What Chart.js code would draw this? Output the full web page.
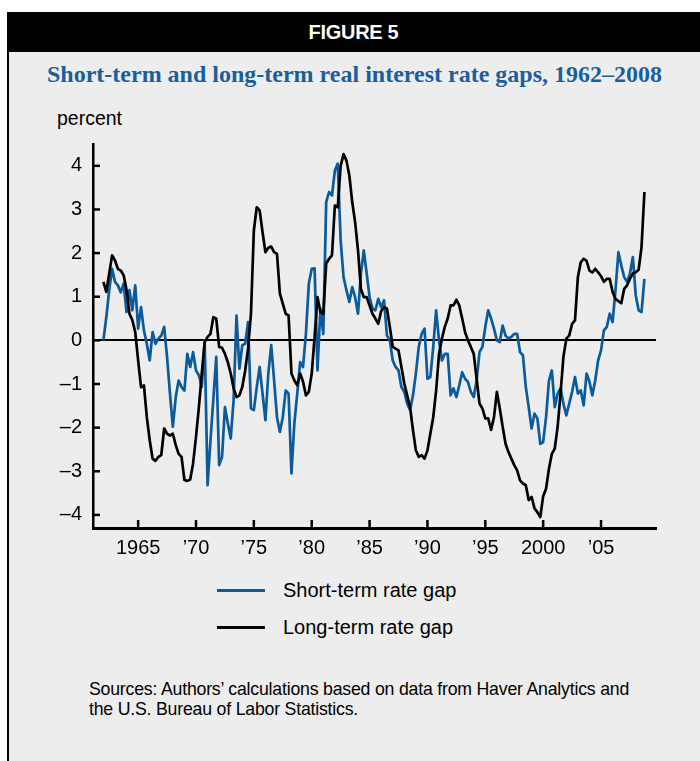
<!DOCTYPE html>
<html>
<head>
<meta charset="utf-8">
<script src="https://cdn.jsdelivr.net/npm/chart.js@4.4.1/dist/chart.umd.min.js"></script>
<style>
  html, body { margin: 0; padding: 0; background: #fff; }
  #page { position: relative; width: 700px; height: 761px; overflow: hidden; background: #fff; font-family: "Liberation Sans", Arial, sans-serif; }
  #panel { position: absolute; left: 7px; top: 12px; right: 0; bottom: 0; background: #ededed; border-left: 2.5px solid #000; }
  #header { position: absolute; left: 7px; top: 12px; right: 0; height: 40px; background: #000; color: #fff; text-align: center; line-height: 40px; font-weight: bold; font-size: 20px; letter-spacing: -0.3px; }
  #title { position: absolute; left: 9px; right: 0; top: 59px; text-align: center; font-family: "Liberation Serif", "Times New Roman", serif; font-weight: bold; font-size: 24px; color: #1b5e9c; line-height: 30px; }
  #unit { position: absolute; left: 57px; top: 106px; font-size: 19.5px; line-height: 24px; color: #000; }
  #wrap { position: absolute; left: 0; top: 130px; width: 700px; height: 440px; }
  .leg { position: absolute; left: 217px; height: 24px; line-height: 24px; font-size: 20px; color: #000; }
  .leg i { position: absolute; left: 0; top: 10.5px; width: 48px; height: 3px; }
  .leg span { position: absolute; left: 66px; white-space: nowrap; }
  #sources { position: absolute; left: 89px; top: 679px; font-size: 17.7px; line-height: 20px; color: #000; letter-spacing: -0.2px; }
</style>
</head>
<body>
<div id="page">
  <div id="panel"></div>
  <div id="header">FIGURE 5</div>
  <div id="title">Short-term and long-term real interest rate gaps, 1962–2008</div>
  <div id="unit">percent</div>
  <div id="wrap"><canvas id="chart_gaps"></canvas></div>
  <div class="leg" style="top:578px"><i style="background:#0a5a9c"></i><span>Short-term rate gap</span></div>
  <div class="leg" style="top:615px"><i style="background:#000"></i><span>Long-term rate gap</span></div>
  <div id="sources">Sources: Authors’ calculations based on data from Haver Analytics and<br>the U.S. Bureau of Labor Statistics.</div>
</div>
<script>
// quarterly data, 1962:Q1 to 2008:Q4
var startYear = 1962;

var shortGap = [
  0.0, 0.53, 1.15, 1.64, 1.34, 1.26, 1.1, 1.3,
  0.65, 1.15, 0.69, 1.26, 0.27, 0.76, 0.23, -0.08,
  -0.46, 0.19, -0.08, 0.04, 0.11, 0.31, -0.38, -1.22,
  -1.98, -1.3, -0.92, -1.07, -1.15, -0.31, -0.61, -0.27,
  -0.69, -0.8, -1.07, 0.0, -3.32, -2.3, -1.34, -0.38,
  -2.86, -2.67, -1.53, -1.9, -2.25, -1.37, 0.57, -0.65,
  -0.11, -0.08, 0.42, -1.56, -1.6, -1.07, -0.61, -1.22,
  -1.83, -0.76, -0.11, -0.92, -1.76, -2.1, -1.76, -1.15,
  -1.22, -3.05, -1.9, -1.22, -0.5, -0.61, 0.15, 1.3,
  1.64, 1.65, -0.69, 0.73, 0.15, 3.17, 3.4, 3.32,
  3.89, 4.05, 2.29, 1.45, 1.15, 0.88, 1.22, 0.99,
  0.61, 1.53, 2.06, 1.53, 0.99, 0.73, 0.69, 0.95,
  0.76, 0.92, 0.11, 0.0, -0.46, -0.61, -0.69, -1.07,
  -1.18, -1.45, -1.6, -1.26, -0.76, -0.15, 0.15, 0.27,
  -0.88, -0.84, -0.15, 0.69, 0.0, -0.46, -0.31, -0.31,
  -1.26, -1.1, -1.3, -1.03, -0.73, -0.88, -0.95, -1.18,
  -1.3, -0.92, -0.27, -0.15, 0.31, 0.69, 0.5, 0.27,
  0.0, -0.04, 0.34, 0.11, 0.04, 0.08, 0.15, 0.15,
  -0.27, -0.34, -1.07, -1.53, -2.02, -1.68, -1.79, -2.37,
  -2.33, -1.76, -0.92, -0.69, -1.53, -1.22, -1.1, -1.45,
  -1.72, -1.45, -1.18, -0.84, -1.22, -1.15, -1.49, -0.76,
  -0.95, -1.26, -0.92, -0.46, -0.23, 0.23, 0.31, 0.61,
  0.42, 1.15, 2.02, 1.72, 1.45, 1.34, 1.53, 1.91,
  1.03, 0.69, 0.65, 1.41
];

var longGap = [
  1.34, 1.11, 1.53, 1.95, 1.83, 1.64, 1.6, 1.49,
  1.15, 0.61, 0.46, 0.19, -0.46, -1.07, -1.03, -1.76,
  -2.29, -2.71, -2.76, -2.67, -2.63, -2.02, -2.14, -2.18,
  -2.14, -2.4, -2.6, -2.67, -3.2, -3.22, -3.19, -2.82,
  -2.21, -1.53, -0.76, -0.04, 0.08, 0.15, 0.53, 0.5,
  -0.15, -0.17, -0.31, -0.5, -0.76, -1.1, -1.3, -1.26,
  -1.07, -0.69, -0.19, 0.61, 2.52, 3.05, 2.98, 2.48,
  2.02, 2.12, 2.15, 2.02, 1.98, 1.07, 0.84, 0.61,
  0.57, -0.76, -0.92, -1.03, -0.76, -0.95, -1.26, -1.18,
  -0.76, 0.08, 0.99, 0.65, 0.61, 1.76, 1.87, 1.95,
  3.09, 3.05, 4.0, 4.27, 4.12, 3.78, 3.17, 2.71,
  2.06, 1.18, 0.99, 0.99, 0.8, 0.61, 0.5, 0.38,
  0.67, 0.76, 0.73, 0.31, -0.15, -0.19, -0.23, -0.61,
  -0.99, -1.26, -1.53, -2.06, -2.52, -2.67, -2.63, -2.71,
  -2.52, -2.14, -1.76, -1.15, -0.31, 0.04, 0.31, 0.5,
  0.8, 0.8, 0.93, 0.8, 0.5, 0.19, 0.0, -0.15,
  -0.31, -0.88, -1.45, -1.56, -1.79, -1.79, -2.05, -1.76,
  -1.18, -1.56, -1.98, -2.37, -2.56, -2.71, -2.86, -2.98,
  -3.21, -3.28, -3.32, -3.66, -3.59, -3.85, -3.94, -4.05,
  -3.57, -3.4, -2.94, -2.6, -2.48, -1.98, -1.22, -0.38,
  0.04, 0.11, 0.38, 0.46, 1.45, 1.79, 1.87, 1.82,
  1.6, 1.56, 1.64, 1.56, 1.47, 1.34, 1.41, 1.41,
  1.11, 0.95, 0.9, 0.85, 1.18, 1.26, 1.41, 1.53,
  1.56, 1.62, 2.14, 3.4
];

var xTickYears = [1965, 1970, 1975, 1980, 1985, 1990, 1995, 2000, 2005];
var xTickLabels = ["1965", "’70", "’75", "’80", "’85", "’90", "’95", "2000", "’05"];
var yTicks = [-4, -3, -2, -1, 0, 1, 2, 3, 4];
var yTickLabels = ["–4", "–3", "–2", "–1", "0", "1", "2", "3", "4"];

function quarterly(values){
  return values.map(function(v, i){ return {x: startYear + i / 4, y: v}; });
}

// short tick marks pointing into the plot
var inwardTicks = {
  id: "inwardTicks",
  afterDraw: function(chart){
    var ctx = chart.ctx, area = chart.chartArea;
    var xs = chart.scales.x, ys = chart.scales.y;
    ctx.save();
    ctx.strokeStyle = "#000";
    ctx.lineWidth = 2.5;
    yTicks.forEach(function(v){
      var py = ys.getPixelForValue(v);
      ctx.beginPath(); ctx.moveTo(area.left, py); ctx.lineTo(area.left + 7, py); ctx.stroke();
    });
    xTickYears.forEach(function(v){
      var px = xs.getPixelForValue(v);
      ctx.beginPath(); ctx.moveTo(px, area.bottom); ctx.lineTo(px, area.bottom - 8); ctx.stroke();
    });
    ctx.restore();
  }
};

Chart.defaults.font.family = "'Liberation Sans', Arial, sans-serif";
Chart.defaults.color = "#000";

new Chart(document.getElementById("chart_gaps").getContext("2d"), {
  type: "line",
  data: {
    datasets: [{
      label: "Short-term rate gap",
      data: quarterly(shortGap),
      borderColor: "#0a5a9c",
      borderWidth: 2.7,
      pointRadius: 0,
      tension: 0,
      borderJoinStyle: "round",
      order: 2
    }, {
      label: "Long-term rate gap",
      data: quarterly(longGap),
      borderColor: "#000",
      borderWidth: 2.7,
      pointRadius: 0,
      tension: 0,
      borderJoinStyle: "round",
      order: 1
    }]
  },
  options: {
    responsive: true,
    maintainAspectRatio: false,
    animation: false,
    layout: { padding: { left: 0, right: 44, top: 14, bottom: 0 } },
    plugins: { legend: { display: false }, tooltip: { enabled: false } },
    scales: {
      x: {
        type: "linear",
        min: 1961.1,
        max: 2009.75,
        afterBuildTicks: function(scale){ scale.ticks = xTickYears.map(function(v){ return {value: v}; }); },
        afterFit: function(scale){ scale.height = 42; scale.paddingLeft = 0; scale.paddingRight = 0; },
        ticks: {
          autoSkip: false,
          maxRotation: 0,
          padding: 8,
          font: { size: 20 },
          callback: function(v){ return xTickLabels[xTickYears.indexOf(v)]; }
        },
        grid: { display: true, drawOnChartArea: false, drawTicks: false },
        border: { display: true, color: "#000", width: 3 }
      },
      y: {
        min: -4.3,
        max: 4.5,
        afterBuildTicks: function(scale){ scale.ticks = yTicks.map(function(v){ return {value: v}; }); },
        afterFit: function(scale){ scale.width = 93; scale.paddingTop = 0; scale.paddingBottom = 0; },
        ticks: {
          autoSkip: false,
          padding: 11,
          font: { size: 20 },
          callback: function(v){ return yTickLabels[yTicks.indexOf(v)]; }
        },
        grid: {
          drawTicks: false,
          color: function(c){ return c.tick && c.tick.value === 0 ? "#000" : "rgba(0,0,0,0)"; },
          lineWidth: 2
        },
        border: { display: true, color: "#000", width: 2.5 }
      }
    }
  },
  plugins: [inwardTicks]
});
</script>
</body>
</html>
